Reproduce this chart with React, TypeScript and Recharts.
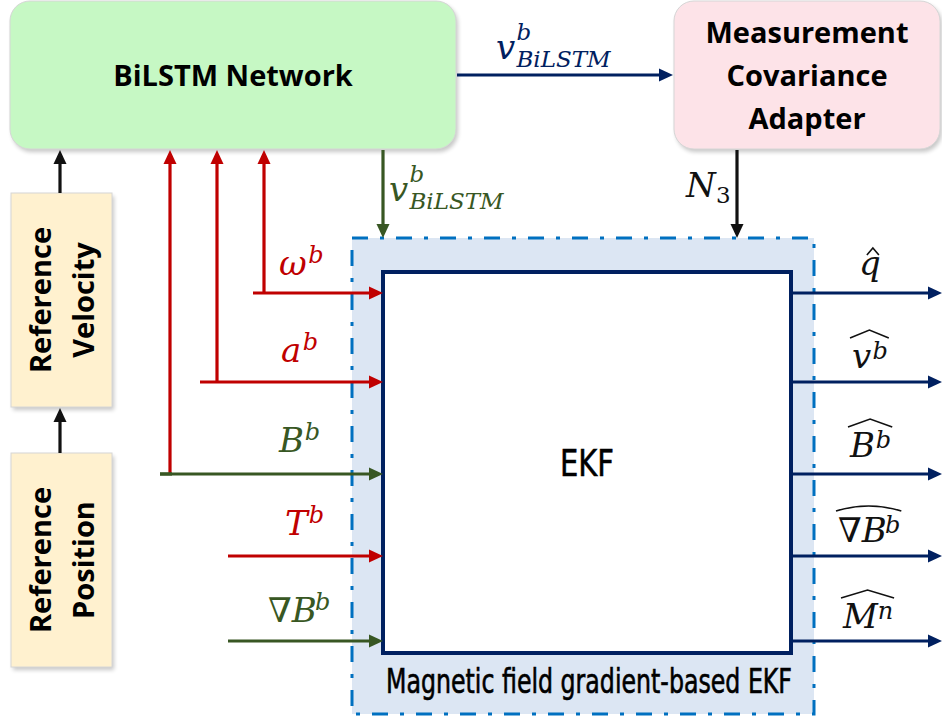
import {
  ReferenceArea,
  ReferenceLine,
  Scatter,
  ScatterChart,
  XAxis,
  YAxis,
} from "recharts";

const W = 942;
const H = 720;

// Diagram blocks in chart units (x: 0..942, y: 0..720 top-down)
const blocks = [
  { id: "bilstm", x1: 10, x2: 456, y1: 1, y2: 149, lines: ["BiLSTM Network"] },
  { id: "adapter", x1: 674, x2: 940, y1: 1, y2: 149, lines: ["Measurement", "Covariance", "Adapter"] },
  { id: "refVel", x1: 11, x2: 112, y1: 193, y2: 407, lines: ["Reference", "Velocity"] },
  { id: "refPos", x1: 11, x2: 112, y1: 453, y2: 667, lines: ["Reference", "Position"] },
];
const ekfZone = { x1: 352, x2: 814, y1: 238, y2: 714, caption: "Magnetic field gradient-based EKF" };
const ekfCore = { x1: 383, x2: 791, y1: 272, y2: 653, title: "EKF" };

// signal rows entering / leaving the EKF
const rowY = [293, 382, 474, 556, 641];
const inputStart = [253, 200, 160, 228, 228];
const inputTone = ["red", "red", "green", "red", "green"];
const tapX = [264, 217, 170]; // red taps going up to the BiLSTM, rows 0..2

const links = [
  { from: { x: 457, y: 75 }, to: { x: 673, y: 75 }, tone: "navy" },
  { from: { x: 383, y: 150 }, to: { x: 383, y: 238 }, tone: "green" },
  { from: { x: 737, y: 150 }, to: { x: 737, y: 238 }, tone: "black" },
  { from: { x: 60, y: 453 }, to: { x: 60, y: 408 }, tone: "black" },
  { from: { x: 60, y: 193 }, to: { x: 60, y: 150 }, tone: "black" },
];

const inputLabels = [
  { x: 279, y: 275, base: "ω", sup: "b", tone: "red" },
  { x: 281, y: 362, base: "a", sup: "b", tone: "red" },
  { x: 279, y: 452, base: "B", sup: "b", tone: "green" },
  { x: 285, y: 535, base: "T", sup: "b", tone: "red" },
  { x: 268, y: 622, base: "∇B", sup: "b", tone: "green" },
];
const linkLabels = [
  { x: 496, y: 59, base: "v", sup: "b", sub: "BiLSTM", tone: "navy" },
  { x: 389, y: 201, base: "v", sup: "b", sub: "BiLSTM", tone: "green" },
  { x: 686, y: 197, base: "N", sub: "3", tone: "black" },
];
const outputLabels = [
  { x: 859, y: 275, base: "q", sup: "", tone: "black" },
  { x: 852, y: 368, base: "v", sup: "b", tone: "black" },
  { x: 850, y: 457, base: "B", sup: "b", tone: "black" },
  { x: 838, y: 542, base: "∇B", sup: "b", tone: "black" },
  { x: 843, y: 628, base: "M", sup: "n", tone: "black" },
];

const COLORS: Record<string, string> = {
  red: "#c00000",
  green: "#385723",
  navy: "#002060",
  black: "#111111",
};
const BLOCK_FILL: Record<string, string> = {
  bilstm: "#c6f8c4",
  adapter: "#fde3e8",
  refVel: "#fff1cf",
  refPos: "#fff1cf",
};

const MATH_FONT = "'DejaVu Serif', 'Liberation Serif', serif";
const BOLD_FONT = "'Open Sans', 'Noto Sans', sans-serif";
const NARROW_FONT = "'Liberation Sans Narrow', 'DejaVu Sans Condensed', Roboto, sans-serif";

// rough italic glyph advance (em) for placing scripts
const GLYPH_W: Record<string, number> = {
  v: 0.6, "ω": 0.86, a: 0.64, B: 0.76, T: 0.7, "∇": 0.62, N: 0.88, M: 1.02, q: 0.64,
};
const textWidth = (s: string, size: number) =>
  s.split("").reduce((acc, ch) => acc + (GLYPH_W[ch] ?? 0.6) * size, 0);

function makeArrow(color: string) {
  return (p: any) => {
    const { x1, y1, x2, y2 } = p;
    const len = Math.hypot(x2 - x1, y2 - y1) || 1;
    const ux = (x2 - x1) / len;
    const uy = (y2 - y1) / len;
    const hl = 14;
    const hw = 6.5;
    const bx = x2 - ux * hl;
    const by = y2 - uy * hl;
    return (
      <g>
        <line x1={x1} y1={y1} x2={bx + ux} y2={by + uy} stroke={color} strokeWidth={3.2} />
        <polygon
          points={`${x2},${y2} ${bx - uy * hw},${by + ux * hw} ${bx + uy * hw},${by - ux * hw}`}
          fill={color}
        />
      </g>
    );
  };
}

function makePlain(color: string) {
  return (p: any) => (
    <line x1={p.x1} y1={p.y1} x2={p.x2} y2={p.y2} stroke={color} strokeWidth={3.2} />
  );
}

function renderBlock(block: (typeof blocks)[number]) {
  return (p: any) => {
    const { x, y, width, height } = p;
    const vertical = height > width;
    const cx = x + width / 2;
    const cy = y + height / 2;
    const lh = 43;
    const n = block.lines.length;
    return (
      <g>
        <defs>
          <filter id={`sh-${block.id}`} x="-10%" y="-10%" width="120%" height="130%">
            <feGaussianBlur stdDeviation="2" />
          </filter>
        </defs>
        <rect
          x={x + 2}
          y={y + 3}
          width={width}
          height={height}
          rx={vertical ? 0 : 20}
          fill="#000"
          opacity={0.22}
          filter={`url(#sh-${block.id})`}
        />
        <rect
          x={x}
          y={y}
          width={width}
          height={height}
          rx={vertical ? 0 : 20}
          fill={BLOCK_FILL[block.id]}
          stroke="#d6d6d6"
          strokeWidth={1}
        />
        <g transform={vertical ? `rotate(-90 ${cx} ${cy})` : undefined}>
          {block.lines.map((t, i) => (
            <text
              key={t}
              x={cx}
              y={cy + (i - (n - 1) / 2) * lh + 11}
              textAnchor="middle"
              fontFamily={BOLD_FONT}
              fontWeight={700}
              fontSize={29}
              fill="#000"
            >
              {t}
            </text>
          ))}
        </g>
      </g>
    );
  };
}

function renderZone(p: any) {
  const { x, y, width, height } = p;
  return (
    <g>
      <rect x={x} y={y} width={width} height={height} fill="#dce6f3" />
      <rect
        x={x}
        y={y}
        width={width}
        height={height}
        fill="none"
        stroke="#0070c0"
        strokeWidth={3}
        strokeDasharray="16 12 4 12"
      />
      <text
        x={x + 34}
        y={y + height - 21}
        fontFamily={NARROW_FONT}
        fontSize={33}
        textLength={406}
        lengthAdjust="spacingAndGlyphs"
        fill="#000"
        stroke="#000"
        strokeWidth={0.6}
      >
        {ekfZone.caption}
      </text>
    </g>
  );
}

function renderCore(p: any) {
  const { x, y, width, height } = p;
  return (
    <g>
      <rect x={x} y={y} width={width} height={height} fill="#fff" stroke="#002060" strokeWidth={4} />
      <text
        x={x + width / 2}
        y={476}
        textAnchor="middle"
        fontFamily={NARROW_FONT}
        fontSize={37}
        textLength={54}
        lengthAdjust="spacingAndGlyphs"
        fill="#000"
        stroke="#000"
        strokeWidth={0.5}
      >
        {ekfCore.title}
      </text>
    </g>
  );
}

function makeMath(kind: "input" | "link" | "output") {
  return (p: any) => {
    const d = p.payload;
    const size = 34;
    const small = kind === "link" ? 23 : 24;
    const x = p.cx;
    const y = p.cy;
    const color = COLORS[d.tone];
    const bw = textWidth(d.base, size);
    const supRaise = kind === "link" ? 19 : kind === "output" ? 9 : 12;
    const supW = d.sup ? textWidth(d.sup, small) : 0;
    const total = bw + supW;
    let hat: any = null;
    if (kind === "output") {
      if (!d.sup) {
        const mx = x + bw / 2 + 3;
        hat = <path d={`M ${mx - 6} ${y - 20} L ${mx} ${y - 27} L ${mx + 6} ${y - 20}`} fill="none" stroke={color} strokeWidth={1.6} />;
      } else {
        const x1 = x - 2;
        const x2 = x + total + 2;
        const top = y - 36;
        hat =
          d.base.length > 1 ? (
            <path d={`M ${x1} ${top + 5} Q ${(x1 + x2) / 2} ${top - 5} ${x2} ${top + 5}`} fill="none" stroke={color} strokeWidth={1.6} />
          ) : (
            <path d={`M ${x1} ${top + 6} L ${(x1 + x2) / 2} ${top - 2} L ${x2} ${top + 6}`} fill="none" stroke={color} strokeWidth={1.6} />
          );
      }
    }
    return (
      <g fill={color} fontFamily={MATH_FONT} fontStyle="italic">
        <text x={x} y={y} fontSize={size}>
          {d.base}
        </text>
        {d.sup ? (
          <text x={x + bw} y={y - supRaise} fontSize={small}>
            {d.sup}
          </text>
        ) : null}
        {d.sub ? (
          <text x={x + bw} y={y + (kind === "link" && d.sup ? 8 : 6)} fontSize={small} fontStyle={d.sub === "3" ? "normal" : "italic"}>
            {d.sub}
          </text>
        ) : null}
        {hat}
      </g>
    );
  };
}

export default function App() {
  return (
    <div style={{ position: "absolute", left: 0, top: 0, background: "#fff" }}>
      <ScatterChart width={W} height={H} margin={{ top: 0, right: 0, bottom: 0, left: 0 }}>
        <XAxis type="number" dataKey="x" domain={[0, W]} hide allowDataOverflow />
        <YAxis type="number" dataKey="y" domain={[0, H]} reversed hide allowDataOverflow />

        <ReferenceArea
          x1={ekfZone.x1}
          x2={ekfZone.x2}
          y1={ekfZone.y1}
          y2={ekfZone.y2}
          shape={renderZone}
        />
        {blocks.map((b) => (
          <ReferenceArea key={b.id} x1={b.x1} x2={b.x2} y1={b.y1} y2={b.y2} shape={renderBlock(b)} />
        ))}

        {links.map((l, i) => (
          <ReferenceLine key={`link-${i}`} segment={[l.from, l.to]} shape={makeArrow(COLORS[l.tone])} />
        ))}
        {tapX.map((tx, i) => (
          <ReferenceLine
            key={`tap-${i}`}
            segment={[{ x: tx, y: rowY[i] }, { x: tx, y: 150 }]}
            shape={makeArrow(COLORS.red)}
          />
        ))}
        {rowY.map((ry, i) => (
          <ReferenceLine
            key={`in-${i}`}
            segment={[{ x: inputStart[i], y: ry }, { x: ekfCore.x1, y: ry }]}
            shape={makeArrow(COLORS[inputTone[i]])}
          />
        ))}
        {rowY.map((ry, i) => (
          <ReferenceLine
            key={`out-${i}`}
            segment={[{ x: ekfCore.x2, y: ry }, { x: W, y: ry }]}
            shape={makeArrow(COLORS.navy)}
          />
        ))}
        <ReferenceLine
          segment={[{ x: 160, y: rowY[2] }, { x: 172, y: rowY[2] }]}
          shape={makePlain(COLORS.green)}
        />

        <ReferenceArea
          x1={ekfCore.x1}
          x2={ekfCore.x2}
          y1={ekfCore.y1}
          y2={ekfCore.y2}
          shape={renderCore}
        />

        <Scatter data={inputLabels} shape={makeMath("input")} isAnimationActive={false} />
        <Scatter data={linkLabels} shape={makeMath("link")} isAnimationActive={false} />
        <Scatter data={outputLabels} shape={makeMath("output")} isAnimationActive={false} />
      </ScatterChart>
    </div>
  );
}
